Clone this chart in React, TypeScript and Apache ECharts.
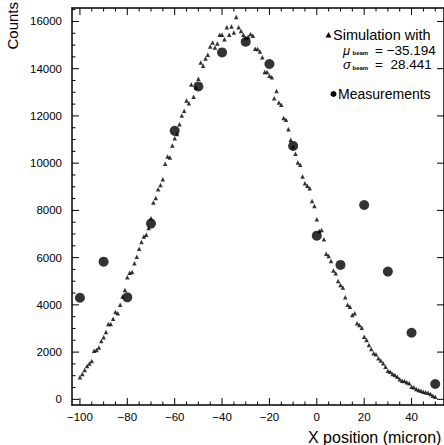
import React, { useEffect, useRef } from "react";
import * as echarts from "echarts";

// Simulation: 1-micron bins starting at x = -100
const simStartX = -100;
const simCounts = [
  930, 1070, 1240, 1410, 1520, 1620, 2060, 2090, 2190, 2470,
  2630, 2850, 3190, 3190, 3410, 3700, 3640, 4000, 4350, 4630,
  5170, 5360, 5390, 5760, 6040, 6380, 6660, 6890, 6970, 7250,
  7670, 8330, 8520, 8900, 9080, 9320, 9970, 10280, 10240, 10750,
  11060, 11240, 11650, 12020, 12220, 12650, 12540, 13330, 12810, 13200,
  13570, 14260, 14120, 14430, 14590, 14940, 15110, 14900, 15070, 15440,
  15440, 15250, 15750, 15440, 15790, 15530, 16190, 15750, 15600, 15440,
  15300, 15350, 15470, 15390, 14840, 14830, 14730, 14480, 13860, 13860,
  13700, 13640, 12750, 13060, 12570, 12470, 11910, 11840, 11440, 10990,
  10700, 10400, 10030, 9930, 9430, 9150, 9040, 8940, 8400, 8190,
  7630, 7130, 7170, 6780, 6160, 6070, 5860, 5450, 5340, 5010,
  4840, 4730, 4320, 4000, 3920, 3570, 3640, 3220, 3150, 3030,
  2650, 2510, 2300, 2130, 1950, 1910, 1740, 1640, 1530, 1380,
  1210, 1170, 1070, 1030, 960, 850, 790, 775, 720, 680,
  530, 510, 440, 390, 360, 320, 300, 280, 225, 150,
  110,
];

// Measurements
const measX = [-100, -90, -80, -70, -60, -50, -40, -30, -20, -10, 0, 10, 20, 30, 40, 50];
const measCounts = [4300, 5830, 4320, 7440, 11370, 13250, 14690, 15140, 14200, 10730, 6930, 5690, 8230, 5410, 2820, 650];

// Ticks
const xMajorTicks = [-100, -80, -60, -40, -20, 0, 20, 40];
const yMajorTicks = [0, 2000, 4000, 6000, 8000, 10000, 12000, 14000, 16000];
const xMinorStep = 5;
const yMinorStep = 500;

const X_MIN = -103.35;
const X_MAX = 53.7;
const Y_MIN = -240;
const Y_MAX = 16570;

const FONT = "'Liberation Sans', Arial, Helvetica, sans-serif";

function range(a: number, b: number, step: number) {
  const out: number[] = [];
  for (let v = a; v <= b + 1e-9; v += step) out.push(v);
  return out;
}

const minus = (v: number) => String(v).replace("-", "\u2212");

export default function App() {
  const ref = useRef<HTMLDivElement>(null);

  useEffect(() => {
    if (!ref.current) return;
    const chart = echarts.init(ref.current, undefined, { renderer: "svg" });

    const xMinorTicks = range(-100, 50, xMinorStep).filter((v) => xMajorTicks.indexOf(v) < 0);
    const yMinorTicks = range(0, 16500, yMinorStep).filter((v) => yMajorTicks.indexOf(v) < 0);

    const MAJ = 7;
    const MIN = 3.5;
    const xTickData = [
      ...xMajorTicks.map((v) => [v, Y_MIN, MAJ]),
      ...xMinorTicks.map((v) => [v, Y_MIN, MIN]),
    ];
    const yTickData = [
      ...yMajorTicks.map((v) => [X_MIN, v, MAJ, 1]),
      ...yMinorTicks.map((v) => [X_MIN, v, MIN, 0]),
    ];

    const line = { onZero: false, lineStyle: { color: "#000", width: 1.5 } };

    const tickStroke = { stroke: "#000", lineWidth: 1 };

    const option: any = {
      animation: false,
      backgroundColor: "#fff",
      grid: { left: 72, right: -3, top: 8, bottom: 40, containLabel: false },
      xAxis: [
        {
          type: "value",
          min: X_MIN,
          max: X_MAX,
          position: "bottom",
          splitLine: { show: false },
          axisLine: line,
          axisTick: { show: false },
          axisLabel: {
            customValues: xMajorTicks,
            formatter: (v: number) => minus(v),
            fontSize: 11.5,
            color: "#000",
            margin: 6,
            fontFamily: FONT,
          },
        },
        {
          type: "value",
          min: X_MIN,
          max: X_MAX,
          position: "top",
          splitLine: { show: false },
          axisLine: line,
          axisTick: { show: false },
          axisLabel: { show: false },
        },
      ],
      yAxis: [
        {
          type: "value",
          min: Y_MIN,
          max: Y_MAX,
          position: "left",
          splitLine: { show: false },
          axisLine: line,
          axisTick: { show: false },
          axisLabel: {
            customValues: yMajorTicks,
            formatter: (v: number) => String(v),
            fontSize: 11.5,
            color: "#000",
            margin: 10,
            fontFamily: FONT,
          },
        },
        {
          type: "value",
          min: Y_MIN,
          max: Y_MAX,
          position: "right",
          splitLine: { show: false },
          axisLine: line,
          axisTick: { show: false },
          axisLabel: { show: false },
        },
      ],
      series: [
        {
          type: "custom",
          name: "xTicks",
          coordinateSystem: "cartesian2d",
          silent: true,
          clip: false,
          data: xTickData,
          encode: { x: 0, y: 1 },
          renderItem: (params: any, api: any) => {
            const cs = params.coordSys;
            const px = api.coord([api.value(0), Y_MIN])[0];
            const len = api.value(2);
            const bottom = cs.y + cs.height;
            return {
              type: "group",
              children: [
                { type: "line", shape: { x1: px, y1: bottom, x2: px, y2: bottom - len }, style: tickStroke },
                { type: "line", shape: { x1: px, y1: cs.y, x2: px, y2: cs.y + len }, style: tickStroke },
              ],
            };
          },
        },
        {
          type: "custom",
          name: "yTicks",
          coordinateSystem: "cartesian2d",
          silent: true,
          clip: false,
          data: yTickData,
          encode: { x: 0, y: 1 },
          renderItem: (params: any, api: any) => {
            const cs = params.coordSys;
            const py = api.coord([X_MIN, api.value(1)])[1];
            const len = api.value(2);
            const right = cs.x + cs.width;
            const children: any[] = [
              { type: "line", shape: { x1: cs.x, y1: py, x2: cs.x + len, y2: py }, style: tickStroke },
            ];
            if (api.value(3) === 1) {
              children.push({ type: "line", shape: { x1: right, y1: py, x2: right - len, y2: py }, style: tickStroke });
            }
            return { type: "group", children };
          },
        },
        {
          type: "scatter",
          name: "Simulation",
          symbol: "triangle",
          symbolSize: 4.5,
          itemStyle: { color: "#000" },
          data: simCounts.map((v, i) => [simStartX + i, v]),
        },
        {
          type: "scatter",
          name: "Measurements",
          symbol: "circle",
          symbolSize: 10,
          itemStyle: { color: "#000" },
          data: measX.map((x, i) => [x, measCounts[i]]),
        },
      ],
      graphic: [
        {
          type: "text",
          x: 12,
          y: 2,
          rotation: Math.PI / 2,
          style: { text: "Counts", font: `15px ${FONT}`, fill: "#000", align: "right", verticalAlign: "middle" },
        },
        {
          type: "text",
          x: 308,
          y: 437,
          style: { text: "X position (micron)", font: `16px ${FONT}`, fill: "#000", align: "left", verticalAlign: "middle" },
        },
        {
          type: "polygon",
          shape: { points: [[328.5, 32], [331.5, 37.5], [325.5, 37.5]] },
          style: { fill: "#000" },
        },
        {
          type: "text",
          x: 333,
          y: 35,
          style: { text: "Simulation with", font: `14.5px ${FONT}`, fill: "#000", align: "left", verticalAlign: "middle" },
        },
        {
          type: "text",
          x: 343,
          y: 50,
          style: { text: "\u03BC", font: `italic 13px ${FONT}`, fill: "#000", align: "left", verticalAlign: "middle" },
        },
        {
          type: "text",
          x: 352.5,
          y: 53,
          style: { text: "beam", font: `bold 6px ${FONT}`, fill: "#000", align: "left", verticalAlign: "middle" },
        },
        {
          type: "text",
          x: 375,
          y: 50,
          style: { text: "= \u221235.194", font: `13.5px ${FONT}`, fill: "#000", align: "left", verticalAlign: "middle" },
        },
        {
          type: "text",
          x: 343,
          y: 64.5,
          style: { text: "\u03C3", font: `italic 13px ${FONT}`, fill: "#000", align: "left", verticalAlign: "middle" },
        },
        {
          type: "text",
          x: 352.5,
          y: 67.5,
          style: { text: "beam", font: `bold 6px ${FONT}`, fill: "#000", align: "left", verticalAlign: "middle" },
        },
        {
          type: "text",
          x: 375,
          y: 64.5,
          style: { text: "=  28.441", font: `13.5px ${FONT}`, fill: "#000", align: "left", verticalAlign: "middle" },
        },
        {
          type: "circle",
          shape: { cx: 333.5, cy: 94, r: 3 },
          style: { fill: "#000" },
        },
        {
          type: "text",
          x: 338,
          y: 94,
          style: { text: "Measurements", font: `14px ${FONT}`, fill: "#000", align: "left", verticalAlign: "middle" },
        },
      ],
    };

    chart.setOption(option);
    return () => chart.dispose();
  }, []);

  return (
    <div
      ref={ref}
      style={{ position: "fixed", left: 0, top: 0, width: 444, height: 445 }}
    />
  );
}
